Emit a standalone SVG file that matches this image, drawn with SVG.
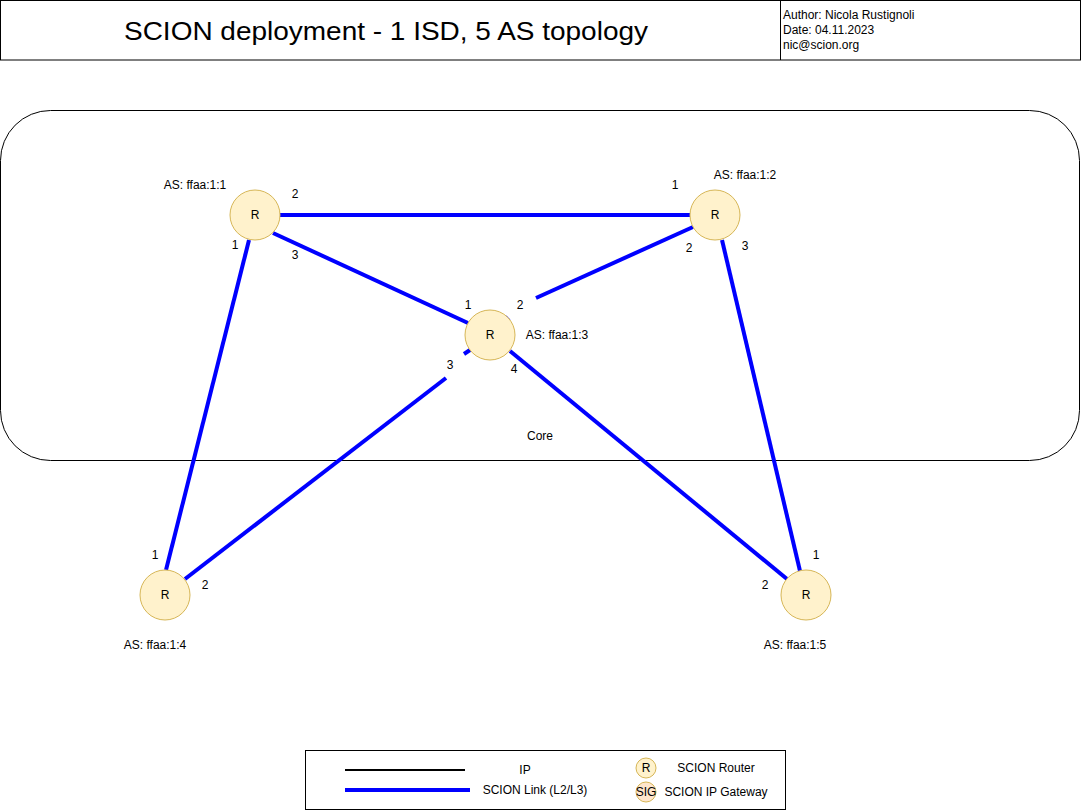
<svg xmlns="http://www.w3.org/2000/svg" width="1081" height="811" viewBox="0 0 1081 811">
<style>
text{font-family:"Liberation Sans",Arial,sans-serif;font-size:12px;fill:#000}
.c{text-anchor:middle;dominant-baseline:central}
.node{fill:#fff2cc;stroke:#d6b656;stroke-width:1}
.link{stroke:#0000ff;stroke-width:4;fill:none}
.frame{fill:#fff;stroke:#000;stroke-width:1}
.meta{font-size:12px}
</style>
<rect width="1081" height="811" fill="#fff"/>
<g id="header">
<rect class="frame" x="0.5" y="0.5" width="1080" height="59.5"/>
<line x1="780.5" y1="0.5" x2="780.5" y2="60" stroke="#000"/>
<text class="c" x="386" y="31" style="font-size:26px" textLength="524" lengthAdjust="spacingAndGlyphs">SCION deployment - 1 ISD, 5 AS topology</text>
<text class="meta" x="783" y="19">Author: Nicola Rustignoli</text>
<text class="meta" x="783" y="34">Date: 04.11.2023</text>
<text class="meta" x="783" y="49">nic@scion.org</text>
</g>
<g id="core">
<rect x="0.5" y="110.5" width="1079" height="350" rx="50" ry="50" fill="none" stroke="#000"/>
<text class="c" x="540" y="436">Core</text>
</g>
<g id="connectors">
<line class="link" x1="280" y1="215" x2="690" y2="215"/>
<line class="link" x1="273" y1="233" x2="468" y2="323"/>
<line class="link" x1="693" y1="227" x2="536" y2="298"/>
<line class="link" x1="505" y1="317" x2="509" y2="321"/>
<line class="link" x1="249" y1="240" x2="166" y2="570"/>
<line class="link" x1="722" y1="240" x2="800" y2="571"/>
<line class="link" x1="185" y1="579" x2="446" y2="378"/>
<line class="link" x1="464" y1="354" x2="470" y2="350"/>
<line class="link" x1="510" y1="351" x2="787" y2="579"/>
</g>
<g id="as1">
<circle class="node" cx="255" cy="215" r="25"/>
<text class="c" x="255" y="215">R</text>
<text class="c" x="195" y="185">AS: ffaa:1:1</text>
<text class="c" x="295" y="194">2</text>
<text class="c" x="235" y="245">1</text>
<text class="c" x="295" y="255">3</text>
</g>
<g id="as2">
<circle class="node" cx="715" cy="215" r="25"/>
<text class="c" x="715" y="215">R</text>
<text class="c" x="745" y="175">AS: ffaa:1:2</text>
<text class="c" x="675" y="185">1</text>
<text class="c" x="689" y="248">2</text>
<text class="c" x="745" y="246">3</text>
</g>
<g id="as3">
<circle class="node" cx="490" cy="335" r="25"/>
<text class="c" x="490" y="335">R</text>
<text class="c" x="557" y="335">AS: ffaa:1:3</text>
<text class="c" x="468" y="305">1</text>
<text class="c" x="520" y="305">2</text>
<text class="c" x="450" y="365">3</text>
<text class="c" x="514" y="369">4</text>
</g>
<g id="as4">
<circle class="node" cx="165" cy="595" r="25"/>
<text class="c" x="165" y="595">R</text>
<text class="c" x="155" y="645">AS: ffaa:1:4</text>
<text class="c" x="155" y="555">1</text>
<text class="c" x="205" y="585">2</text>
</g>
<g id="as5">
<circle class="node" cx="806" cy="595" r="25"/>
<text class="c" x="806" y="595">R</text>
<text class="c" x="795" y="645">AS: ffaa:1:5</text>
<text class="c" x="816" y="555">1</text>
<text class="c" x="765" y="585">2</text>
</g>
<g id="legend">
<rect class="frame" x="305.5" y="750.5" width="480" height="59"/>
<line x1="345" y1="770" x2="465" y2="770" stroke="#000" stroke-width="2"/>
<text class="c" x="525" y="770">IP</text>
<line class="link" x1="345" y1="790" x2="470" y2="790"/>
<text class="c" x="535" y="790">SCION Link (L2/L3)</text>
<circle class="node" cx="646" cy="768" r="10"/>
<text class="c" x="646" y="768">R</text>
<text class="c" x="716" y="768">SCION Router</text>
<circle cx="646" cy="792" r="10" fill="#ffe6cc" stroke="#d6b656"/>
<text class="c" x="646" y="792">SIG</text>
<text class="c" x="716" y="792">SCION IP Gateway</text>
</g>
</svg>
